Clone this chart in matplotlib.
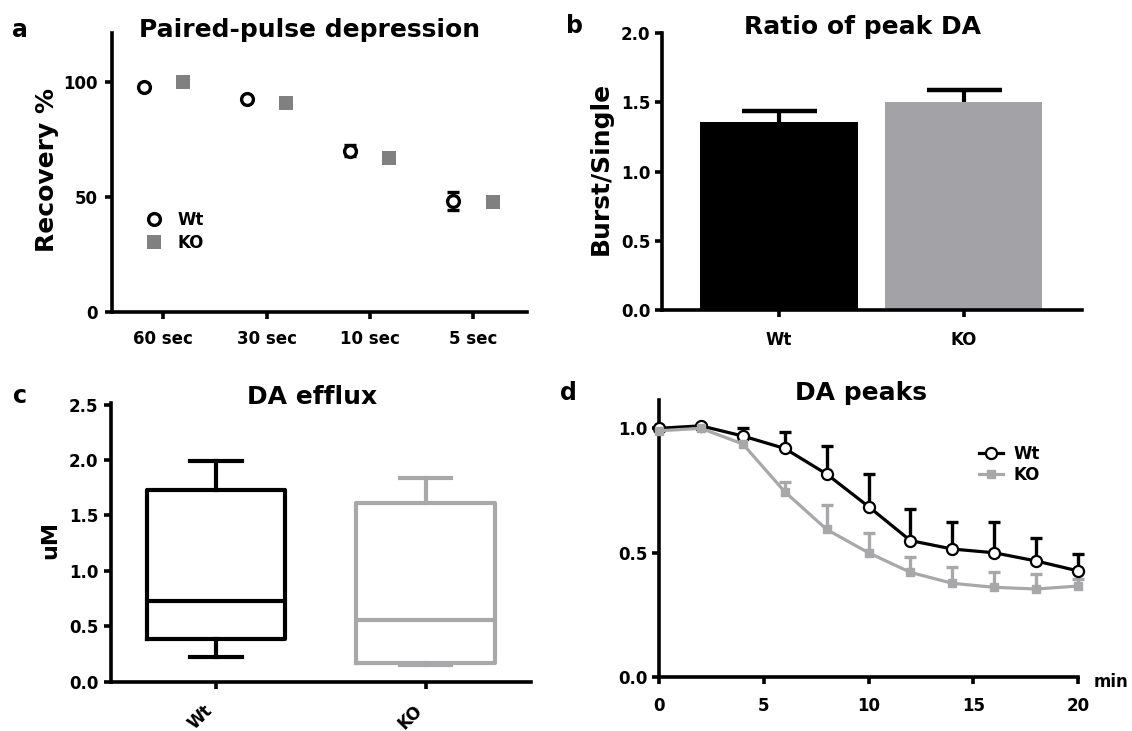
import numpy as np
import matplotlib
matplotlib.use("Agg")
import matplotlib.pyplot as plt

W, H = 1132, 731

# a: paired-pulse depression
intervals = ["60 sec", "30 sec", "10 sec", "5 sec"]
ppd_wt = [98.1, 92.8, 70.1, 48.3]
ppd_wt_err = [1.0, 1.0, 2.4, 3.9]
ppd_ko = [100.0, 90.8, 67.2, 47.7]
ppd_ko_err = [0.8, 0.8, 1.0, 2.5]

# b: ratio of peak DA
groups = ["Wt", "KO"]
ratio_mean = [1.36, 1.50]
ratio_sem = [0.08, 0.09]

# c: DA efflux (box stats)
efflux_min = [0.22, 0.15]
efflux_q1 = [0.385, 0.165]
efflux_med = [0.725, 0.56]
efflux_q3 = [1.73, 1.61]
efflux_max = [1.995, 1.835]

# d: DA peaks over time
time_min = [0, 2, 4, 6, 8, 10, 12, 14, 16, 18, 20]
peaks_wt = [1.0, 1.01, 0.969, 0.919, 0.816, 0.685, 0.548, 0.514, 0.499, 0.466, 0.426]
peaks_wt_err = [0.0, 0.005, 0.031, 0.068, 0.113, 0.131, 0.126, 0.11, 0.125, 0.091, 0.068]
peaks_ko = [0.99, 1.0, 0.937, 0.745, 0.593, 0.499, 0.42, 0.376, 0.36, 0.353, 0.365]
peaks_ko_err = [0.0, 0.005, 0.02, 0.04, 0.10, 0.078, 0.063, 0.067, 0.063, 0.06, 0.027]

BLACK = "black"
GREY_A = "#808080"
GREY_B = "#a2a2a7"
GREY_C = "#a8a8aa"

plt.rcParams["font.family"] = ["DejaVu Sans"]
plt.rcParams["font.weight"] = "bold"
plt.rcParams["axes.linewidth"] = 2.6


def px_axes(left, top, right, bottom):
    return [left / W, 1 - bottom / H, (right - left) / W, (bottom - top) / H]


def style(ax, xpad, ypad):
    for s in ["top", "right"]:
        ax.spines[s].set_visible(False)
    ax.tick_params(width=2.6, length=5, labelsize=12, direction="out")
    ax.tick_params(axis="x", pad=xpad)
    ax.tick_params(axis="y", pad=ypad)


def upper_errorbar(ax, x, y, err, **kw):
    # one-sided (upward) error bars, like Prism's "above" SEM bars
    eb = ax.errorbar(x, y, yerr=[np.zeros(len(x)), err], fmt="none", **kw)
    eb[1][0].set_visible(False)
    return eb


def ftext(x, y, s, **kw):
    fig.text(x / W, 1 - y / H, s, **kw)


fig = plt.figure(figsize=(W / 100, H / 100), dpi=100)

# ---------------- a ----------------
ax = fig.add_axes(px_axes(111.7, 33.3, 526.7, 311.7))
pos = np.arange(len(intervals))
ax.errorbar(pos - 0.19, ppd_wt, yerr=ppd_wt_err, fmt="o", color=BLACK,
            mfc="white", mec=BLACK, ms=8.5, mew=2.4, elinewidth=2,
            capsize=4, capthick=2, label="Wt", zorder=3)
ax.errorbar(pos + 0.19, ppd_ko, yerr=ppd_ko_err, fmt="s", color=GREY_A,
            ms=9.5, mew=0, elinewidth=2, capsize=4, capthick=2,
            label="KO", zorder=3)
ax.set_xlim(-0.5, 3.52)
ax.set_ylim(0, 121.4)
ax.set_yticks([0, 50, 100])
ax.set_xticks(pos)
ax.set_xticklabels(intervals)
style(ax, 8.4, 4.8)
handles, labels = ax.get_legend_handles_labels()
handles = [h[0] for h in handles]
ax.legend(handles, labels, loc="upper left",
          bbox_to_anchor=(146 / W, 1 - 211 / H), bbox_transform=fig.transFigure,
          frameon=False, handlelength=1.0, handletextpad=0.9,
          labelspacing=0.3, borderpad=0, borderaxespad=0, fontsize=12)

# ---------------- b ----------------
ax = fig.add_axes(px_axes(661.7, 33.3, 1081.7, 310))
xb = np.arange(len(groups))
ax.bar(xb, ratio_mean, width=0.854, color=[BLACK, GREY_B], zorder=2)
upper_errorbar(ax, xb, ratio_mean, ratio_sem, ecolor=BLACK, elinewidth=3,
               capsize=27, capthick=3.2, zorder=1)
ax.set_xlim(-0.635, 1.64)
ax.set_ylim(0, 2.0)
ax.set_yticks([0.0, 0.5, 1.0, 1.5, 2.0])
ax.set_yticklabels(["0.0", "0.5", "1.0", "1.5", "2.0"])
ax.set_xticks(xb)
ax.set_xticklabels(groups)
style(ax, 10, 3)

# ---------------- c ----------------
ax = fig.add_axes(px_axes(111, 403, 530.5, 681.7))
box_colors = [BLACK, GREY_C]
for i in range(len(groups)):
    st = dict(whislo=efflux_min[i], q1=efflux_q1[i], med=efflux_med[i],
              q3=efflux_q3[i], whishi=efflux_max[i], fliers=[])
    props = dict(color=box_colors[i], linewidth=3)
    ax.bxp([st], positions=[i], widths=0.66, capwidths=0.245,
           showfliers=False, boxprops=props, whiskerprops=props,
           capprops=props, medianprops=props, manage_ticks=False)
ax.set_xlim(-0.5, 1.5)
ax.set_ylim(0, 2.515)
ax.set_yticks([0.0, 0.5, 1.0, 1.5, 2.0, 2.5])
ax.set_yticklabels(["0.0", "0.5", "1.0", "1.5", "2.0", "2.5"])
ax.set_xticks([0, 1])
ax.set_xticklabels(groups, rotation=45, ha="right", va="top")
style(ax, 9, 4)

# ---------------- d ----------------
ax = fig.add_axes(px_axes(659, 400, 1078, 676.7))
upper_errorbar(ax, time_min, peaks_wt, peaks_wt_err, ecolor=BLACK,
               elinewidth=2.4, capsize=4, capthick=2.4, zorder=2, clip_on=False)
upper_errorbar(ax, time_min, peaks_ko, peaks_ko_err, ecolor=GREY_C,
               elinewidth=2.4, capsize=4, capthick=2.4, zorder=2, clip_on=False)
l_wt, = ax.plot(time_min, peaks_wt, "-o", color=BLACK, lw=2.3, ms=8,
                mfc="white", mew=1.6, zorder=4, clip_on=False, label="Wt")
l_ko, = ax.plot(time_min, peaks_ko, "-s", color=GREY_C, lw=2.3, ms=5.5,
                zorder=5, clip_on=False, label="KO")
ax.set_xlim(0, 20)
ax.set_ylim(0, 1.114)
ax.set_xticks([0, 5, 10, 15, 20])
ax.set_yticks([0.0, 0.5, 1.0])
ax.set_yticklabels(["0.0", "0.5", "1.0"])
style(ax, 9.4, 3)
ax.legend(handles=[l_wt, l_ko], labels=["Wt", "KO"], loc="upper left",
          bbox_to_anchor=(979 / W, 1 - 445 / H), bbox_transform=fig.transFigure,
          frameon=False, handlelength=1.45, handletextpad=0.6,
          labelspacing=0.15, borderpad=0, borderaxespad=0, fontsize=12)
ftext(1111, 687, "min", ha="center", va="baseline", fontsize=12)

# ---------------- titles, labels ----------------
ftext(310, 37.3, "Paired-pulse depression", ha="center", va="baseline", fontsize=18)
ftext(862.5, 34.3, "Ratio of peak DA", ha="center", va="baseline", fontsize=18)
ftext(311.8, 404, "DA efflux", ha="center", va="baseline", fontsize=18)
ftext(861, 400, "DA peaks", ha="center", va="baseline", fontsize=18)

ftext(20, 36.7, "a", ha="center", va="baseline", fontsize=17)
ftext(574.6, 33.3, "b", ha="center", va="baseline", fontsize=17)
ftext(20, 403.3, "c", ha="center", va="baseline", fontsize=17)
ftext(568, 400, "d", ha="center", va="baseline", fontsize=17)

ftext(46.6, 170, "Recovery %", rotation=90, ha="center", va="center", fontsize=18)
ftext(601, 168, "Burst/Single", rotation=90, ha="center", va="center", fontsize=18)
ftext(50, 540, "uM", rotation=90, ha="center", va="center", fontsize=16)

fig.savefig("out.png", dpi=100)
